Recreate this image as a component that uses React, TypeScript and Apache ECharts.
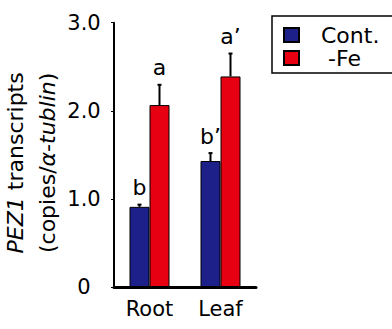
import React, { useEffect, useRef } from "react";
import * as echarts from "echarts";

const categories = ["Root", "Leaf"];
const contValues = [0.91, 1.43];
const contErrors = [0.025, 0.09];
const feValues = [2.065, 2.39];
const feErrors = [0.23, 0.26];
const contLetters = ["b", "b\u2019"];
const feLetters = ["a", "a\u2019"];
const yTickLabels = ["0", "1.0", "2.0", "3.0"];
const seriesNames = ["Cont.", "-Fe"];

const BLUE = "#1d2088";
const RED = "#e60012";
const FONT = "DejaVu Sans";

export default function App() {
  const ref = useRef<HTMLDivElement>(null);
  useEffect(() => {
    document.body.style.margin = "0";
    const chart = echarts.init(ref.current!, null, { renderer: "svg" });
    const errData: any[] = [];
    const errLetters: string[] = [];
    categories.forEach((_, i) => {
      errData.push([i, contValues[i] + contErrors[i], contValues[i], -1]);
      errLetters.push(contLetters[i]);
      errData.push([i, feValues[i] + feErrors[i], feValues[i], 1]);
      errLetters.push(feLetters[i]);
    });
    const barWidth = 20;
    chart.setOption({
      animation: false,
      grid: { left: 114, right: 136, top: 22.7, bottom: 42, outerBoundsMode: "none", containLabel: false },
      legend: {
        orient: "vertical",
        left: 283,
        top: 24,
        padding: 0,
        itemWidth: 15,
        itemHeight: 14,
        itemGap: 1,
        icon: "rect",
        data: seriesNames,
        textStyle: {
          fontFamily: FONT,
          fontSize: 22,
          color: "#000",
          rich: {
            c: { fontFamily: FONT, fontSize: 22, color: "#000", padding: [0, 0, 0, 17] },
            f: { fontFamily: FONT, fontSize: 22, color: "#000", padding: [0, 0, 0, 24] },
          },
        },
        formatter: (name: string) => (name === "Cont." ? `{c|${name}}` : `{f|${name}}`),
      },
      graphic: [
        {
          type: "rect",
          shape: { x: 272, y: 16, width: 140, height: 57 },
          style: { fill: "none", stroke: "#000", lineWidth: 1.5 },
          silent: true,
        },
      ],
      xAxis: {
        type: "category",
        data: categories,
        axisLine: { lineStyle: { color: "#000", width: 3 } },
        axisTick: { length: 5, lineStyle: { color: "#000", width: 1 } },
        axisLabel: { fontFamily: FONT, fontSize: 21, color: "#000", margin: 11 },
      },
      yAxis: {
        type: "value",
        min: 0,
        max: 3,
        interval: 1,
        splitLine: { show: false },
        axisLine: { show: true, lineStyle: { color: "#000", width: 2 } },
        axisTick: { show: true, length: 3, lineStyle: { color: "#000", width: 1 } },
        axisLabel: {
          fontFamily: FONT,
          fontSize: 21,
          color: "#000",
          align: "center",
          margin: 30,
          formatter: (v: number) => yTickLabels[Math.round(v)],
        },
        name: "{i|PEZ1} transcripts\n(copies/{i|\u03b1-tublin})",
        nameLocation: "middle",
        nameRotate: 90,
        nameGap: 37,
        nameTextStyle: {
          fontFamily: FONT,
          fontSize: 22,
          color: "#000",
          lineHeight: 32,
          padding: [0, 16, 0, 0],
          rich: {
            i: { fontFamily: FONT, fontSize: 22, fontStyle: "italic", color: "#000", lineHeight: 32 },
          },
        },
      },
      series: [
        {
          name: seriesNames[0],
          type: "bar",
          data: contValues,
          barWidth: barWidth,
          barGap: "0%",
          itemStyle: { color: BLUE, borderColor: "#000", borderWidth: 1 },
        },
        {
          name: seriesNames[1],
          type: "bar",
          data: feValues,
          barWidth: barWidth,
          barGap: "0%",
          itemStyle: { color: RED, borderColor: "#000", borderWidth: 1 },
        },
        {
          type: "custom",
          data: errData,
          encode: { x: 0, y: 1 },
          z: 5,
          renderItem: (params: any, api: any) => {
            const cat = api.value(0);
            const top = api.coord([cat, api.value(1)]);
            const base = api.coord([cat, api.value(2)]);
            const x = top[0] + (api.value(3) * barWidth) / 2;
            return {
              type: "group",
              children: [
                {
                  type: "line",
                  shape: { x1: x, y1: base[1], x2: x, y2: top[1] },
                  style: { stroke: "#000", lineWidth: 2 },
                },
                {
                  type: "line",
                  shape: { x1: x - 2, y1: top[1], x2: x + 2, y2: top[1] },
                  style: { stroke: "#000", lineWidth: 2 },
                },
                {
                  type: "text",
                  x: x,
                  y: top[1] - 6,
                  style: {
                    text: errLetters[params.dataIndex],
                    fontFamily: FONT,
                    fontSize: 22,
                    fill: "#000",
                    textAlign: "center",
                    textVerticalAlign: "bottom",
                  },
                },
              ],
            };
          },
        },
      ],
    });
    return () => chart.dispose();
  }, []);
  return <div ref={ref} style={{ width: 392, height: 329 }} />;
}
